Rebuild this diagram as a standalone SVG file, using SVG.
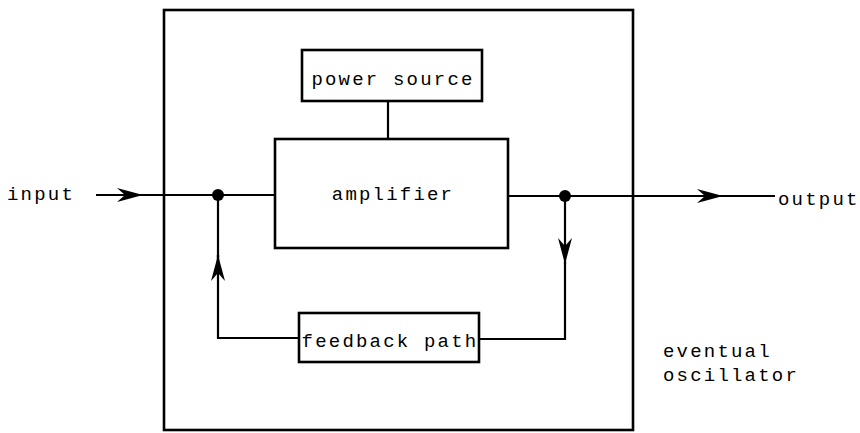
<svg xmlns="http://www.w3.org/2000/svg" width="860" height="433" viewBox="0 0 860 433">
<style>
.box{fill:#fff;stroke:#000;stroke-width:2.6}
.ln{fill:none;stroke:#000;stroke-width:2.2}
text{font-family:"Liberation Mono","Courier New",monospace;font-size:19px;letter-spacing:2.2px;fill:#000}
</style>
<defs>
<marker id="arr" viewBox="0 0 26 14" refX="26" refY="7" markerWidth="26" markerHeight="14" markerUnits="userSpaceOnUse" orient="auto">
<path d="M0,0 L26,7 L0,14 L8,7 Z" fill="#000"/>
</marker>
</defs>
<rect fill="#fff" width="860" height="433"/>
<g id="oscillator">
<rect class="box" x="164" y="10" width="469" height="420"/>
<text x="663" y="357">eventual</text>
<text x="663" y="381">oscillator</text>
</g>
<g id="connectors">
<line class="ln" x1="96" y1="195" x2="143" y2="195" marker-end="url(#arr)"/>
<line class="ln" x1="143" y1="195" x2="275" y2="195"/>
<line class="ln" x1="388" y1="101" x2="388" y2="139"/>
<line class="ln" x1="508" y1="196" x2="723" y2="196" marker-end="url(#arr)"/>
<line class="ln" x1="723" y1="196" x2="775" y2="196"/>
<line class="ln" x1="565" y1="196" x2="565" y2="264" marker-end="url(#arr)"/>
<polyline class="ln" points="565,262 565,339 479,339"/>
<polyline class="ln" points="299,338 218,338 218,255"/>
<line class="ln" x1="218" y1="273" x2="218" y2="255" marker-end="url(#arr)"/>
<line class="ln" x1="218" y1="258" x2="218" y2="195"/>
<circle cx="218" cy="195" r="6" fill="#000"/>
<circle cx="565" cy="196" r="6" fill="#000"/>
</g>
<g id="input"><text x="7" y="200">input</text></g>
<g id="output"><text x="778" y="205">output</text></g>
<g id="power-source">
<rect class="box" x="302" y="50" width="180" height="51"/>
<text x="393" y="85" text-anchor="middle">power source</text>
</g>
<g id="amplifier">
<rect class="box" x="275" y="139" width="233" height="109"/>
<text x="393" y="200" text-anchor="middle">amplifier</text>
</g>
<g id="feedback-path">
<rect class="box" x="299" y="313" width="180" height="49"/>
<text x="390" y="347" text-anchor="middle">feedback path</text>
</g>
</svg>
